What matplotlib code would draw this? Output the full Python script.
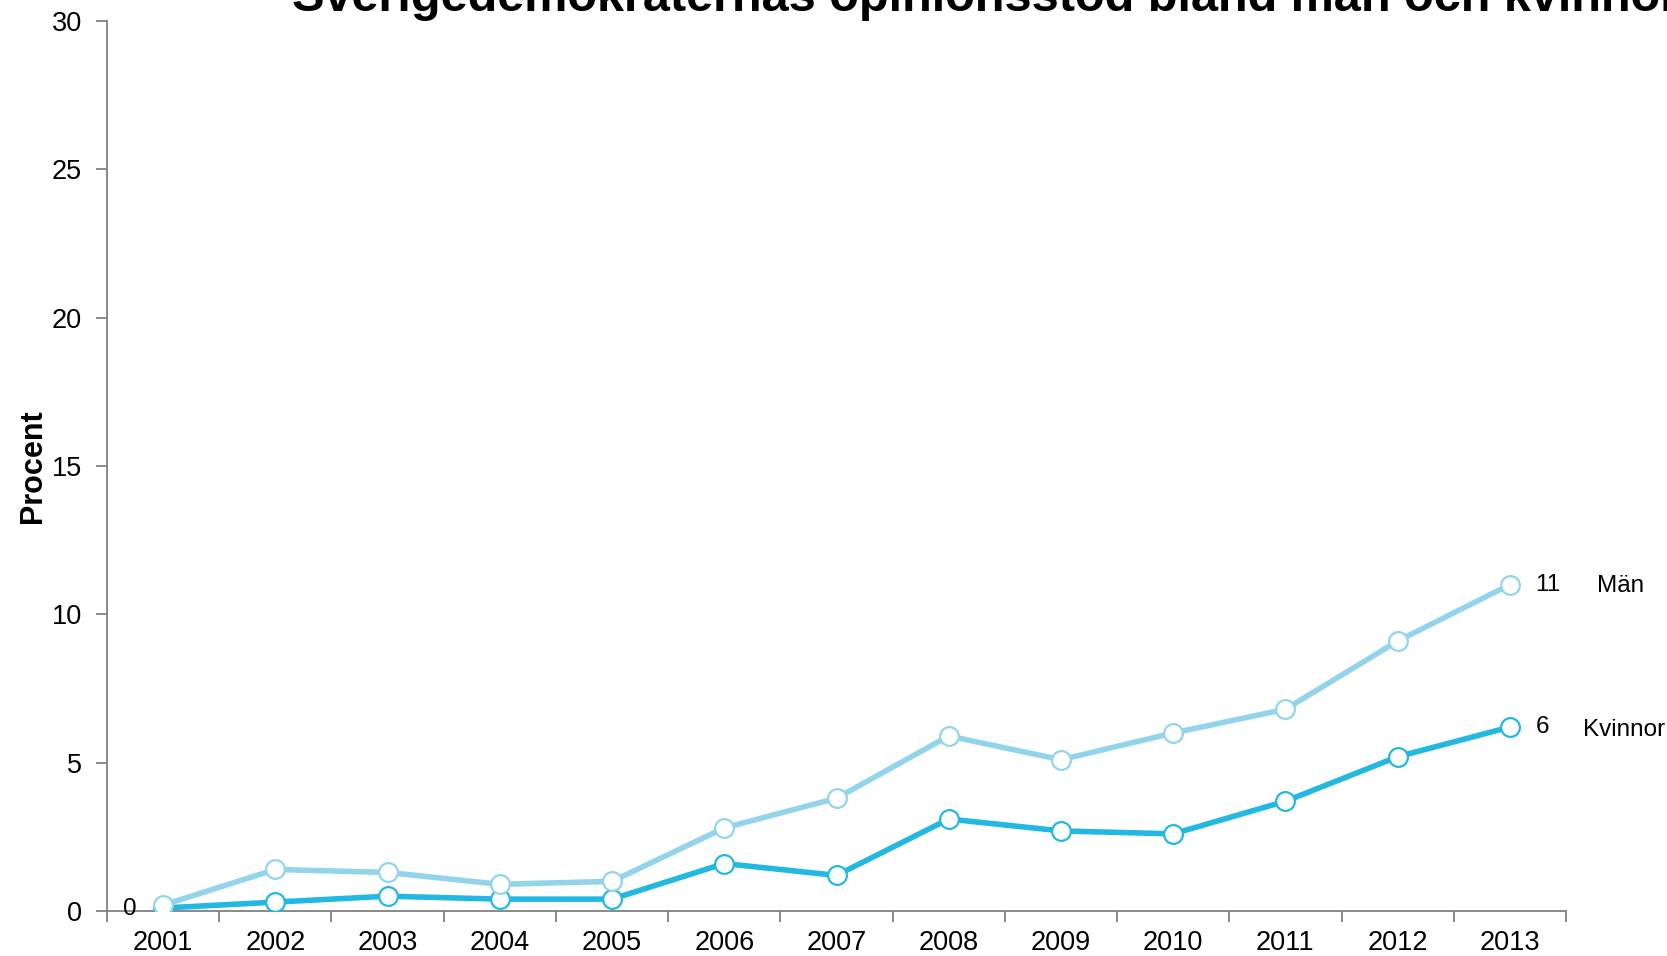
import matplotlib
matplotlib.use("Agg")
import matplotlib.pyplot as plt
from matplotlib.ticker import FixedLocator, NullFormatter

plt.rcParams['font.family'] = ['Liberation Sans', 'DejaVu Sans']

years = [2001, 2002, 2003, 2004, 2005, 2006, 2007, 2008, 2009, 2010, 2011, 2012, 2013]
man = [0.2, 1.4, 1.3, 0.9, 1.0, 2.8, 3.8, 5.9, 5.1, 6.0, 6.8, 9.1, 11.0]
kvinnor = [0.1, 0.3, 0.5, 0.4, 0.4, 1.6, 1.2, 3.1, 2.7, 2.6, 3.7, 5.2, 6.2]
series_names = ["Män", "Kvinnor"]
end_labels = ["11", "6"]
start_label = "0"
title = "Sverigedemokraternas opinionsstöd bland män och kvinnor"
ylabel = "Procent"

c_man = "#93D4ED"
c_kv = "#22B8E2"

W, H = 1667, 956
fig = plt.figure(figsize=(W / 100, H / 100), dpi=100)
ax = fig.add_axes([107 / W, 45 / H, (1566 - 107) / W, (911 - 21) / H])

ax.plot(years, kvinnor, color=c_kv, lw=4.0, marker='o', ms=13.5,
        mfc='white', mec=c_kv, mew=1.6, zorder=3)
ax.plot(years, man, color=c_man, lw=4.0, marker='o', ms=13.5,
        mfc='white', mec=c_man, mew=1.6, zorder=4)

ax.set_xlim(2000.5, 2013.5)
ax.set_ylim(0, 30)
ax.set_yticks([0, 5, 10, 15, 20, 25, 30])
ax.set_xticks(years)
ax.set_xticklabels([str(y) for y in years])
ax.xaxis.set_minor_locator(FixedLocator([y + 0.5 for y in range(2000, 2014)]))
ax.xaxis.set_minor_formatter(NullFormatter())
ax.tick_params(axis='x', which='major', length=0, labelsize=19.5, pad=14)
ax.tick_params(axis='x', which='minor', length=8, width=1.3, color='#808080', direction='out')
ax.tick_params(axis='y', which='major', length=8, width=1.3, color='#808080', labelsize=19.5, pad=10)

for s in ['top', 'right']:
    ax.spines[s].set_visible(False)
for s in ['left', 'bottom']:
    ax.spines[s].set_color('#808080')
    ax.spines[s].set_linewidth(1.3)

ax.set_ylabel(ylabel, fontsize=22, fontweight='bold', labelpad=3)

# end labels
ax.annotate(end_labels[0], (years[-1], man[-1]), xytext=(18.5, 0), textcoords='offset points',
            ha='left', va='center', fontsize=17.5, annotation_clip=False)
ax.annotate(series_names[0], (years[-1], man[-1]), xytext=(62.5, -1), textcoords='offset points',
            ha='left', va='center', fontsize=17.5, annotation_clip=False)
ax.annotate(end_labels[1], (years[-1], kvinnor[-1]), xytext=(18.5, 0), textcoords='offset points',
            ha='left', va='center', fontsize=17.5, annotation_clip=False)
ax.annotate(series_names[1], (years[-1], kvinnor[-1]), xytext=(53, -2), textcoords='offset points',
            ha='left', va='center', fontsize=17.5, annotation_clip=False)
ax.annotate(start_label, (years[0], kvinnor[0]), xytext=(-19, -1), textcoords='offset points',
            ha='right', va='center', fontsize=17.5, annotation_clip=False)

fig.text(292 / W, 1 - 11 / H, title, ha='left', va='baseline', fontsize=35, fontweight='bold')

fig.savefig("out.png", dpi=100)
